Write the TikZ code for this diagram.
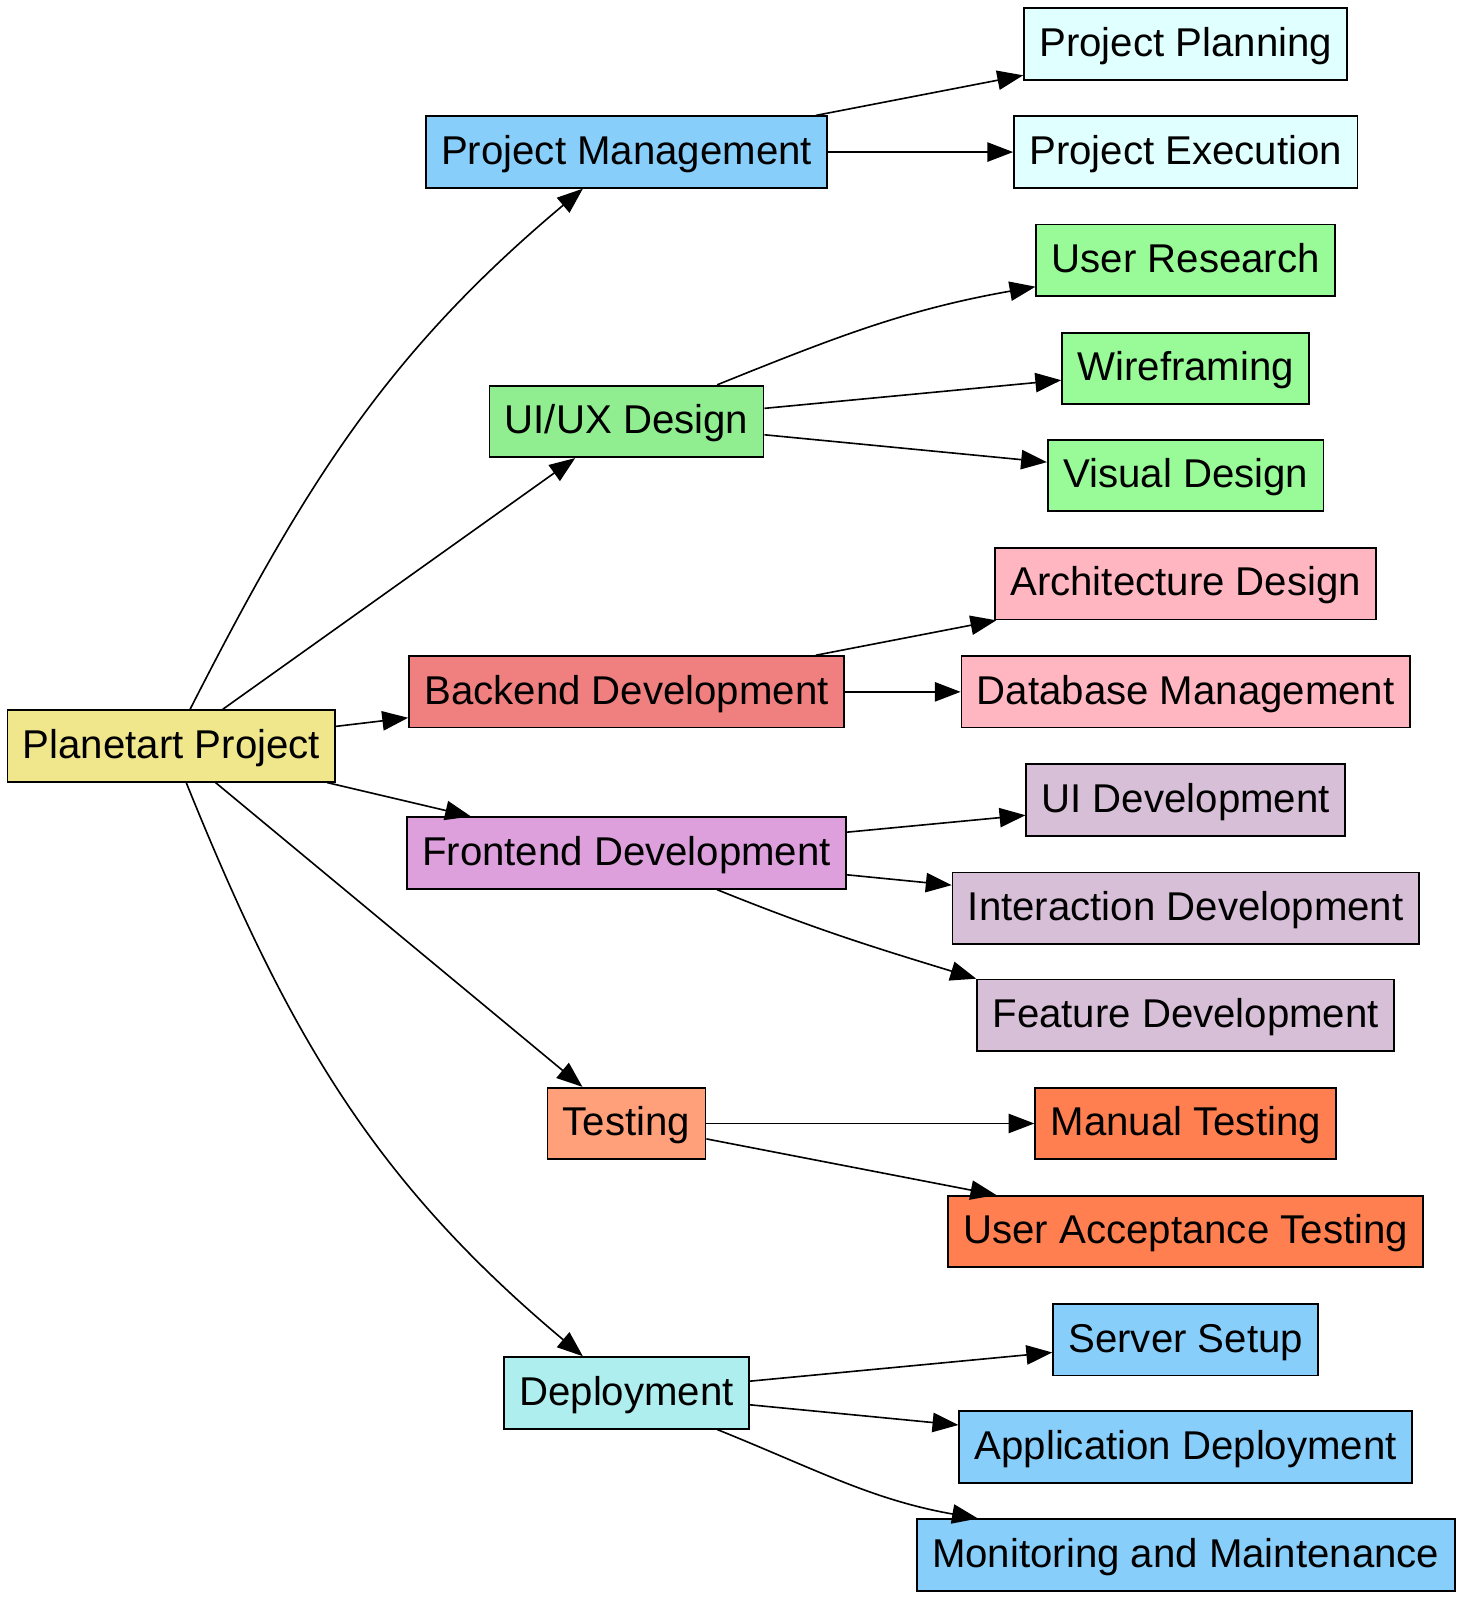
\documentclass[tikz,border=0pt]{standalone}
\usepackage{fontspec}
\setmainfont{Liberation Sans}
\usepackage{tikz}
\usetikzlibrary{arrows.meta}
\definecolor{rootc}{HTML}{F0E68C}
\definecolor{skyc}{HTML}{87CEFA}
\definecolor{cyanc}{HTML}{E0FFFF}
\definecolor{greenc}{HTML}{90EE90}
\definecolor{paleg}{HTML}{98FB98}
\definecolor{coralc}{HTML}{F08080}
\definecolor{pinkc}{HTML}{FFB6C1}
\definecolor{plumc}{HTML}{DDA0DD}
\definecolor{thistc}{HTML}{D8BFD8}
\definecolor{salmc}{HTML}{FFA07A}
\definecolor{orngc}{HTML}{FF7F50}
\definecolor{turqc}{HTML}{AFEEEE}
\tikzset{
  ar/.style={-{Triangle[length=7.2pt,width=5.4pt]},line width=0.45pt,black},
  box/.style={draw=black,line width=0.5pt,rectangle,minimum height=0.7cm,inner xsep=0.15cm,inner ysep=0pt,
    text height=0.92em,text depth=0.24em,font=\fontsize{11.2}{13.4}\selectfont}
}
\begin{document}
\begin{tikzpicture}[x=0.01cm,y=0.01cm]
\useasboundingbox (0,0) rectangle (1433,-1568);
% root and first level
\node[box,fill=rootc] (root) at (168,-731) {Planetart Project};
\node[box,fill=skyc] (pm) at (614,-149) {Project Management};
\node[box,fill=greenc] (ux) at (614,-413) {UI/UX Design};
\node[box,fill=coralc] (be) at (614,-678) {Backend Development};
\node[box,fill=plumc] (fe) at (614,-836) {Frontend Development};
\node[box,fill=salmc] (test) at (614,-1101) {Testing};
\node[box,fill=turqc] (dep) at (614,-1365) {Deployment};
% second level
\node[box,fill=cyanc] (pplan) at (1162,-43) {Project Planning};
\node[box,fill=cyanc] (pexec) at (1162,-149) {Project Execution};
\node[box,fill=paleg] (ures) at (1162,-255) {User Research};
\node[box,fill=paleg] (wire) at (1162,-361) {Wireframing};
\node[box,fill=paleg] (vis) at (1162,-466) {Visual Design};
\node[box,fill=pinkc] (arch) at (1162,-572) {Architecture Design};
\node[box,fill=pinkc] (db) at (1162,-678) {Database Management};
\node[box,fill=thistc] (uidev) at (1162,-784) {UI Development};
\node[box,fill=thistc] (idev) at (1162,-890) {Interaction Development};
\node[box,fill=thistc] (fdev) at (1162,-995) {Feature Development};
\node[box,fill=orngc] (mtest) at (1162,-1101) {Manual Testing};
\node[box,fill=orngc] (uat) at (1162,-1207) {User Acceptance Testing};
\node[box,fill=skyc] (srv) at (1162,-1313) {Server Setup};
\node[box,fill=skyc] (appdep) at (1162,-1418) {Application Deployment};
\node[box,fill=skyc] (mon) at (1162,-1524) {Monitoring and Maintenance};
% edges
\draw[ar] (root) to[out=63,in=220] (pm);
\draw[ar] (root) -- (ux);
\draw[ar] (root) -- (be);
\draw[ar] (root) -- (fe);
\draw[ar] (root) -- (test);
\draw[ar] (root) to[out=-68,in=140] (dep);
\draw[ar] (pm) -- (pplan);
\draw[ar] (pm) -- (pexec);
\draw[ar] (ux) to[out=22,in=190] (ures);
\draw[ar] (ux) -- (wire);
\draw[ar] (ux) -- (vis);
\draw[ar] (be) -- (arch);
\draw[ar] (be) -- (db);
\draw[ar] (fe) -- (uidev);
\draw[ar] (fe) -- (idev);
\draw[ar] (fe) to[out=-22,in=163] (fdev.north west);
\draw[ar] (test) -- (mtest);
\draw[ar] (test) -- (uat);
\draw[ar] (dep) -- (srv);
\draw[ar] (dep) -- (appdep);
\draw[ar] (dep) to[out=-22,in=170] (mon);
\end{tikzpicture}
\end{document}
